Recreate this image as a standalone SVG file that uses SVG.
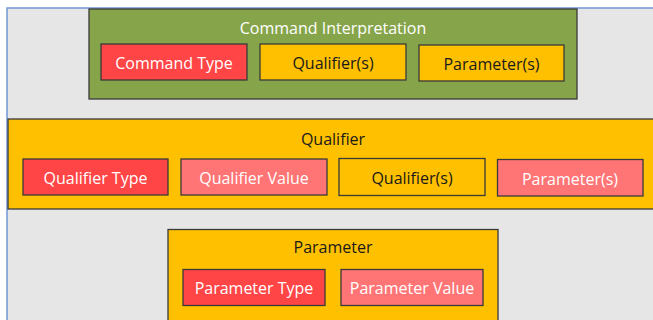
<svg xmlns="http://www.w3.org/2000/svg" width="653" height="320" viewBox="0 0 653 320">
<style>
.box{stroke:#3a3a3a;stroke-width:1.3}
.green{fill:#86a54a}
.yellow{fill:#ffc000}
.red{fill:#ff4545}
.pink{fill:#ff7474}
text{font-family:"Open Sans","Liberation Sans",Arial,sans-serif;font-size:16px;text-anchor:middle}
.w{fill:#ffffff}
.d{fill:#1a1a1a}
</style>
<rect x="0" y="0" width="653" height="320" fill="#ffffff"/>
<rect x="7" y="8" width="660" height="330" fill="#e6e6e6" stroke="#6f96d6" stroke-width="1.5"/>
<g id="command-interpretation">
<rect class="box green" x="89" y="9" width="488" height="90"/>
<text class="w" x="333" y="34">Command Interpretation</text>
</g>
<g id="command-type">
<rect class="box red" x="101" y="44" width="146" height="36"/>
<text class="w" x="174" y="68.5">Command Type</text>
</g>
<g id="cmd-qualifiers">
<rect class="box yellow" x="260" y="44" width="146" height="36"/>
<text class="d" x="333" y="68.5">Qualifier(s)</text>
</g>
<g id="cmd-parameters">
<rect class="box yellow" x="419" y="45" width="145" height="36"/>
<text class="d" x="491.5" y="69.5">Parameter(s)</text>
</g>
<g id="qualifier">
<rect class="box yellow" x="8" y="119" width="650" height="90"/>
<text class="d" x="333" y="145">Qualifier</text>
</g>
<g id="qualifier-type">
<rect class="box red" x="23" y="159" width="145" height="36"/>
<text class="w" x="95.5" y="183.5">Qualifier Type</text>
</g>
<g id="qualifier-value">
<rect class="box pink" x="181" y="159" width="146" height="36"/>
<text class="w" x="254" y="183.5">Qualifier Value</text>
</g>
<g id="qual-qualifiers">
<rect class="box yellow" x="339" y="158.5" width="146" height="37"/>
<text class="d" x="412" y="183.5">Qualifier(s)</text>
</g>
<g id="qual-parameters">
<rect class="box pink" x="497.5" y="159.5" width="145.5" height="36.5"/>
<text class="w" x="570" y="184.5">Parameter(s)</text>
</g>
<g id="parameter">
<rect class="box yellow" x="168" y="229.5" width="330" height="100"/>
<text class="d" x="333" y="253">Parameter</text>
</g>
<g id="parameter-type">
<rect class="box red" x="183" y="269.5" width="142" height="36"/>
<text class="w" x="254" y="293.5">Parameter Type</text>
</g>
<g id="parameter-value">
<rect class="box pink" x="341" y="269.5" width="142" height="36"/>
<text class="w" x="412" y="293.5">Parameter Value</text>
</g>
<g id="connectors"></g>
</svg>
